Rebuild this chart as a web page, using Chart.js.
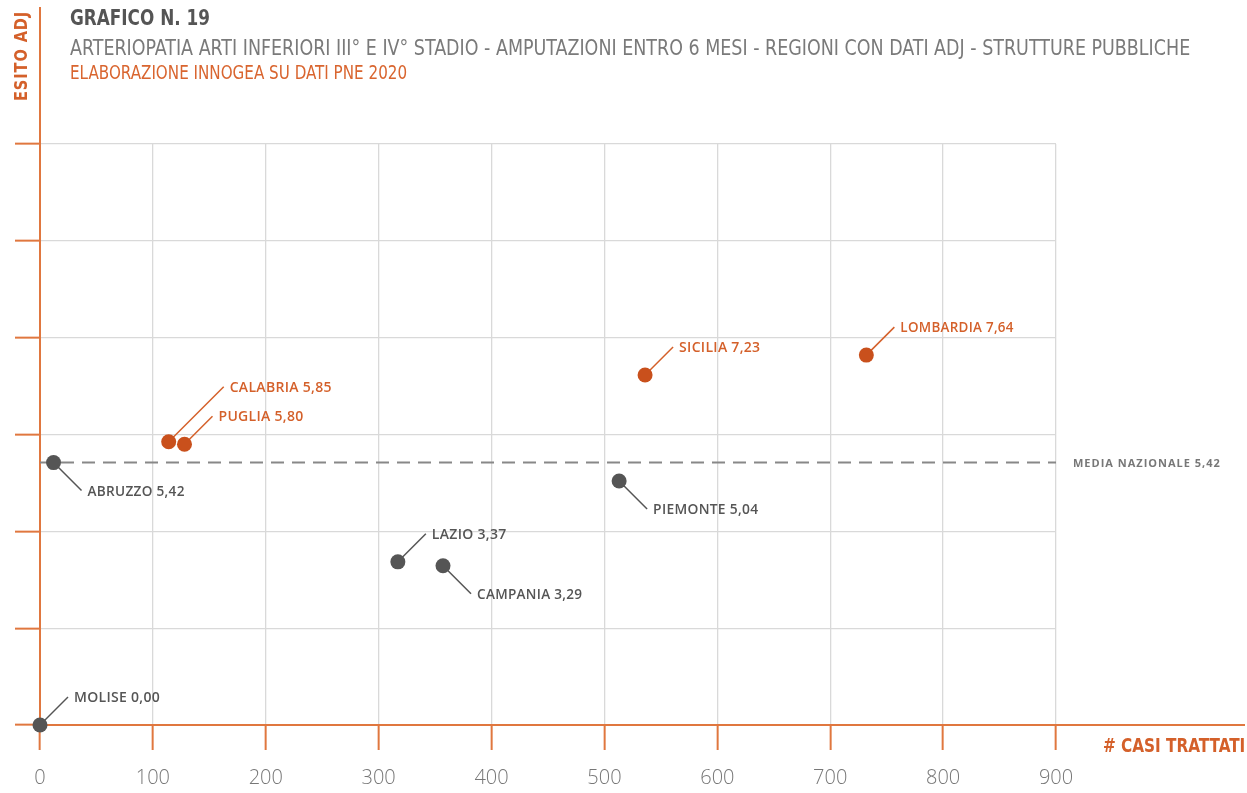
<!DOCTYPE html>
<html>
<head>
<meta charset="utf-8">
<script src="https://cdn.jsdelivr.net/npm/chart.js@4/dist/chart.umd.min.js"></script>
<style>
  body { margin: 0; background: #fff; }
  #wrap { position: relative; width: 1247px; height: 793px; overflow: hidden; }
  #grafico { position: absolute; left: 0; top: 0; }
  .txt { position: absolute; white-space: nowrap; line-height: 1; transform-origin: 0 0;
         font-family: "Liberation Sans Narrow", "DejaVu Sans Condensed", "Roboto", sans-serif; }
</style>
</head>
<body>
<div id="wrap">
  <canvas id="grafico" width="1247" height="793"></canvas>
  <div class="txt" id="t1" data-w="140" style="left:70px;top:8px;font-size:21px;font-weight:bold;color:#555">GRAFICO N. 19</div>
  <div class="txt" id="t2" data-w="1120" style="left:70px;top:37px;font-size:22px;color:#7a7a7a">ARTERIOPATIA ARTI INFERIORI III° E IV° STADIO - AMPUTAZIONI ENTRO 6 MESI - REGIONI CON DATI ADJ - STRUTTURE PUBBLICHE</div>
  <div class="txt" id="t3" data-w="337" style="left:70px;top:63px;font-size:19px;color:#d9652f">ELABORAZIONE INNOGEA SU DATI PNE 2020</div>
  <div class="txt" id="xt" data-w="142" style="left:1103px;top:736px;font-size:19px;font-weight:bold;color:#d4602a"># CASI TRATTATI</div>
  <div class="txt" id="yt" data-w="90" data-rot="1" style="left:12px;top:101px;font-size:18px;font-weight:bold;color:#d4602a;letter-spacing:1px">ESITO ADJ</div>
</div>
<script>
// ==================== DATI ====================
const regioni = ['MOLISE', 'ABRUZZO', 'CALABRIA', 'PUGLIA', 'LAZIO', 'CAMPANIA', 'PIEMONTE', 'SICILIA', 'LOMBARDIA'];
const casiTrattati = [0, 12, 114, 128, 317, 357, 513, 536, 732];
const esitoAdj = [0.00, 5.42, 5.85, 5.80, 3.37, 3.29, 5.04, 7.23, 7.64];
const mediaNazionale = 5.42;
const xTicks = [0, 100, 200, 300, 400, 500, 600, 700, 800, 900];
const yTicks = [0, 2, 4, 6, 8, 10, 12];

// etichette: verso (-1 su, 1 giu) e lunghezza del filo
const etichettaVerso = [-1, 1, -1, -1, -1, 1, 1, -1, -1];
const etichettaFilo = [28, 28, 55, 28, 28, 28, 28, 28, 28];

const ARANCIO = '#c9501c', ARANCIO_TXT = '#d4602a', ASSE = '#e0773f', GRIGIO = '#555555';
const fmt = v => v.toFixed(2).replace('.', ',');
const sopra = esitoAdj.map(v => v > mediaNazionale);
const colori = sopra.map(s => s ? ARANCIO : GRIGIO);

// adatta larghezza testi html
document.querySelectorAll('.txt').forEach(el => {
  const s = (+el.dataset.w) / el.offsetWidth;
  el.style.transform = (el.dataset.rot ? 'rotate(-90deg) ' : '') + `scaleX(${s})`;
});

const etichette = {
  id: 'etichette',
  beforeDatasetsDraw(chart) {
    const { ctx } = chart;
    const pts = chart.getDatasetMeta(1).data;
    ctx.save();
    ctx.lineWidth = 1.5;
    pts.forEach((p, i) => {
      const L = etichettaFilo[i], d = etichettaVerso[i];
      ctx.strokeStyle = sopra[i] ? ARANCIO_TXT : GRIGIO;
      ctx.beginPath();
      ctx.moveTo(p.x, p.y);
      ctx.lineTo(p.x + L, p.y + d * L);
      ctx.stroke();
    });
    ctx.restore();
  },
  afterDatasetsDraw(chart) {
    const { ctx, chartArea, scales } = chart;
    const pts = chart.getDatasetMeta(1).data;
    ctx.save();
    ctx.textBaseline = 'middle';
    ctx.font = '600 14px "Open Sans", sans-serif';
    ctx.letterSpacing = '0.3px';
    pts.forEach((p, i) => {
      const L = etichettaFilo[i], d = etichettaVerso[i];
      const t = regioni[i] + ' ' + fmt(esitoAdj[i]);
      ctx.fillStyle = sopra[i] ? ARANCIO_TXT : GRIGIO;
      ctx.fillText(t, p.x + L + 6, p.y + d * L + 1, t.length * 8.1);
    });
    // media nazionale
    const t = 'MEDIA NAZIONALE ' + fmt(mediaNazionale);
    ctx.font = 'bold 11px "Open Sans", sans-serif';
    ctx.letterSpacing = '1px';
    ctx.fillStyle = '#777';
    ctx.fillText(t, chartArea.right + 17, scales.y.getPixelForValue(mediaNazionale) + 1, 148);
    ctx.restore();
  },
  afterDraw(chart) {
    const { ctx, chartArea } = chart;
    ctx.save();
    ctx.strokeStyle = ASSE;
    ctx.lineWidth = 2;
    ctx.beginPath();
    ctx.moveTo(chartArea.left, chartArea.top);
    ctx.lineTo(chartArea.left, 7);
    ctx.moveTo(chartArea.right, chartArea.bottom);
    ctx.lineTo(1245, chartArea.bottom);
    ctx.stroke();
    ctx.restore();
  }
};

new Chart(document.getElementById('grafico'), {
  data: {
    datasets: [
      {
        type: 'line',
        data: [{ x: xTicks[0], y: mediaNazionale }, { x: xTicks[xTicks.length - 1], y: mediaNazionale }],
        borderColor: '#888', borderWidth: 2, borderDash: [13, 8], pointRadius: 0, order: 2
      },
      {
        type: 'scatter',
        data: casiTrattati.map((x, i) => ({ x, y: esitoAdj[i] })),
        backgroundColor: colori, borderWidth: 0, pointRadius: 7.5, pointHoverRadius: 7.5,
        clip: false, order: 1
      }
    ]
  },
  options: {
    responsive: false,
    animation: false,
    devicePixelRatio: 1,
    layout: { padding: { left: 15, right: 191, top: 144, bottom: 0 } },
    plugins: { legend: { display: false }, tooltip: { enabled: false } },
    events: [],
    scales: {
      x: {
        type: 'linear', min: xTicks[0], max: xTicks[xTicks.length - 1],
        afterBuildTicks: a => { a.ticks = xTicks.map(v => ({ value: v })); },
        afterFit: a => { a.height = 68; },
        grid: { color: '#d9d9d9', lineWidth: 1.3, tickColor: ASSE, tickLength: 25, tickWidth: 2 },
        border: { color: ASSE, width: 2 },
        ticks: { color: '#777', padding: 16, font: { family: 'Open Sans', size: 20, weight: 300 } }
      },
      y: {
        type: 'linear', min: yTicks[0], max: yTicks[yTicks.length - 1],
        afterBuildTicks: a => { a.ticks = yTicks.map(v => ({ value: v })); },
        afterFit: a => { a.width = 25; },
        grid: { color: '#d9d9d9', lineWidth: 1.3, tickColor: ASSE, tickLength: 25, tickWidth: 2 },
        border: { color: ASSE, width: 2 },
        ticks: { display: false }
      }
    }
  },
  plugins: [etichette]
});
</script>
</body>
</html>
